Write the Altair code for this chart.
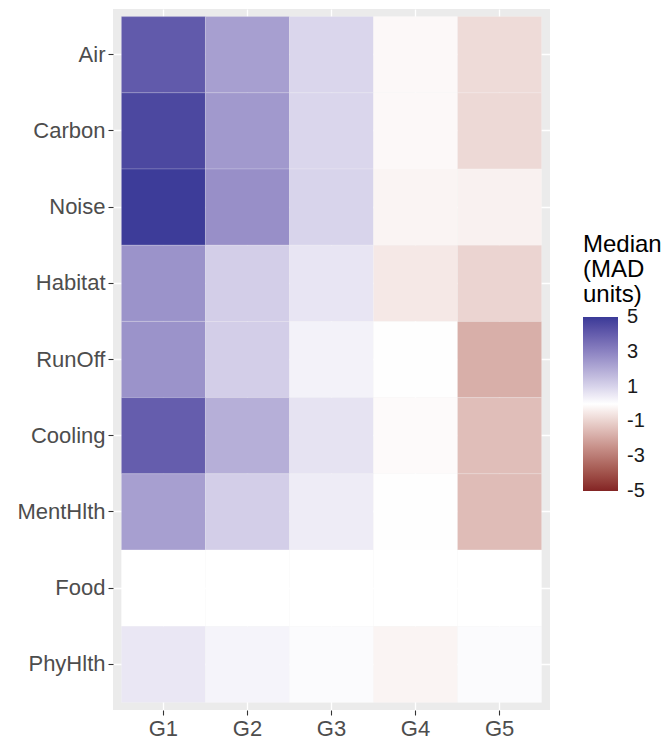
import altair as alt
import pandas as pd

groups = ["G1", "G2", "G3", "G4", "G5"]
items = ["Air", "Carbon", "Noise", "Habitat", "RunOff", "Cooling", "MentHlth", "Food", "PhyHlth"]

air      = [4.1, 2.3, 0.95, -0.15, -0.8]
carbon   = [4.6, 2.45, 0.95, -0.15, -0.85]
noise    = [4.95, 2.7, 1.0, -0.25, -0.3]
habitat  = [2.6, 1.15, 0.6, -0.5, -0.95]
runoff   = [2.6, 1.15, 0.3, -0.03, -1.8]
cooling  = [4.0, 1.9, 0.65, -0.1, -1.45]
menthlth = [2.3, 1.15, 0.45, -0.03, -1.5]
food     = [0.0, 0.0, 0.0, 0.0, 0.0]
phyhlth  = [0.55, 0.25, 0.1, -0.25, 0.1]

series = [air, carbon, noise, habitat, runoff, cooling, menthlth, food, phyhlth]
legend_values = [-5, -3, -1, 1, 3, 5]

rows = []
for name, vals in zip(items, series):
    for g, v in zip(groups, vals):
        rows.append({"item": name, "group": g, "value": v})
df = pd.DataFrame(rows)

FONT = "Liberation Sans"

chart = alt.Chart(df).mark_rect(
    stroke="white", strokeWidth=0.6, strokeOpacity=0.3
).encode(
    x=alt.X("group:N", sort=groups, title=None,
            scale=alt.Scale(paddingInner=0, paddingOuter=0.1),
            axis=alt.Axis(labelAngle=0, bandPosition=0.5, zindex=0)),
    y=alt.Y("item:N", sort=items, title=None,
            scale=alt.Scale(paddingInner=0, paddingOuter=0.1),
            axis=alt.Axis(bandPosition=0.5, zindex=0)),
    color=alt.Color(
        "value:Q",
        scale=alt.Scale(domain=[-5.002, 0, 5.002], range=["#832424", "#FFFFFF", "#3A3A98"],
                        interpolate="lab"),
        legend=alt.Legend(
            title=["Median", "(MAD", "units)"],
            values=legend_values,
            labelExpr="datum.value + ''",
            orient="none", legendX=470, legendY=224,
            gradientLength=174, gradientThickness=35,
            gradientStrokeWidth=0,
            labelFontSize=20, labelColor="#1A1A1A", labelFont=FONT,
            labelOffset=9, labelOverlap=False,
            titleFontSize=24, titleFont=FONT, titleFontWeight="normal",
            titleColor="#000000", titleLineHeight=25, titlePadding=10,
            direction="vertical",
        ),
    ),
).properties(
    width=437, height=701,
    autosize=alt.AutoSizeParams(type="none"),
    padding={"left": 113, "top": 9, "right": 117, "bottom": 39},
).configure_view(
    fill="#EBEBEB", strokeWidth=0
).configure_axis(
    grid=True, gridColor="#FFFFFF", gridWidth=1.3,
    domain=False, tickColor="#333333", tickSize=5, tickWidth=1.1,
    labelColor="#4D4D4D", labelFont=FONT, labelFontSize=22, labelPadding=3,
)

chart.save("out.html", embed_options={"renderer": "svg", "actions": False})
